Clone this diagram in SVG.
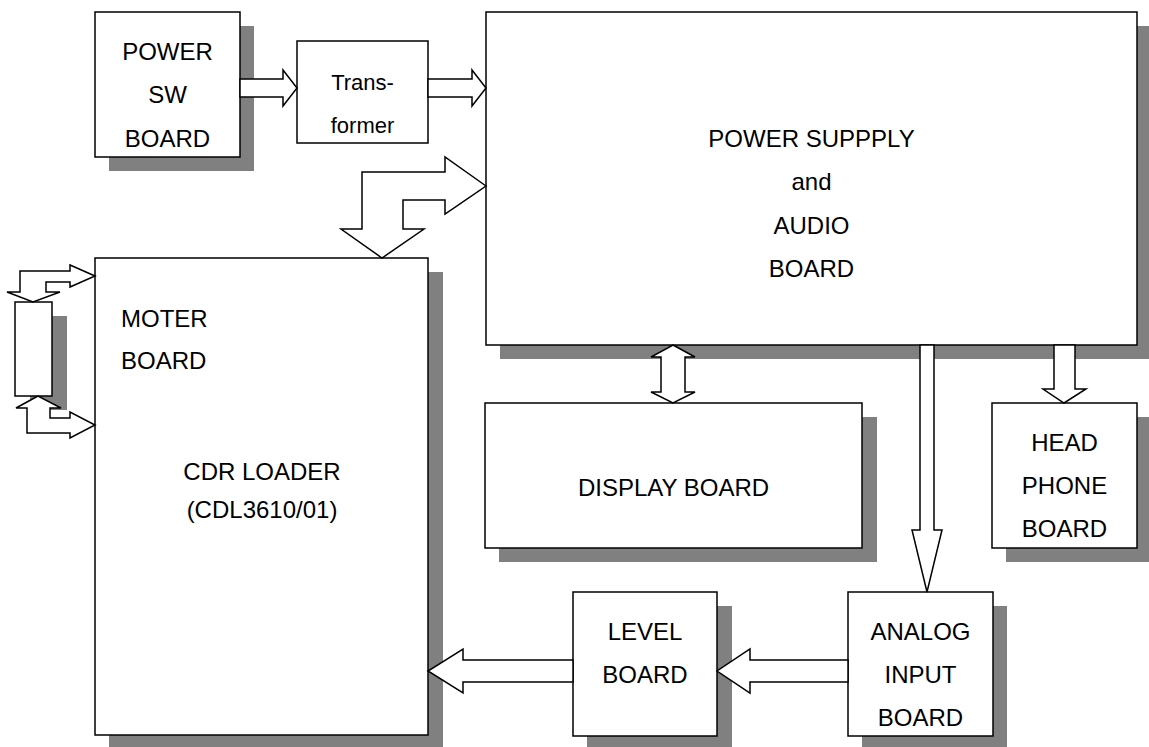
<svg xmlns="http://www.w3.org/2000/svg" width="1149" height="747" viewBox="0 0 1149 747">
<style>
.sh{fill:#808080;stroke:none}
.bx{fill:#fff;stroke:#000;stroke-width:1.5}
.ar{fill:#fff;stroke:#000;stroke-width:1.5;stroke-linejoin:miter}
text{font-family:"Liberation Sans",Arial,sans-serif;font-size:24px;fill:#000}
.c{text-anchor:middle}
.t{font-size:22px}
</style>
<rect width="1149" height="747" fill="#fff"/>
<g id="power-sw-board">
<rect class="sh" x="109" y="26" width="145" height="145"/>
<rect class="bx" x="95" y="12" width="145" height="145"/>
<text class="c" x="167.5" y="60">POWER</text>
<text class="c" x="167.5" y="103">SW</text>
<text class="c" x="167.5" y="147">BOARD</text>
</g>
<g id="transformer">
<rect class="bx" x="297" y="41" width="131" height="102"/>
<text class="c t" x="362.5" y="90">Trans-</text>
<text class="c t" x="362.5" y="133">former</text>
</g>
<g id="power-supply-audio-board">
<rect class="sh" x="500" y="26" width="651" height="333"/>
<rect class="bx" x="486" y="12" width="651" height="333"/>
<text class="c" x="811.5" y="147">POWER SUPPPLY</text>
<text class="c" x="811.5" y="190">and</text>
<text class="c" x="811.5" y="234">AUDIO</text>
<text class="c" x="811.5" y="277">BOARD</text>
</g>
<g id="cdr-loader">
<rect class="sh" x="109" y="272" width="334" height="477"/>
<rect class="bx" x="95" y="258" width="333" height="477"/>
<text x="121" y="327">MOTER</text>
<text x="121" y="369">BOARD</text>
<text class="c" x="262" y="480">CDR LOADER</text>
<text class="c" x="262" y="518">(CDL3610/01)</text>
</g>
<g id="motor-unit">
<rect class="sh" x="30" y="316" width="37" height="94"/>
<rect class="bx" x="15" y="302" width="37" height="94"/>
</g>
<g id="display-board">
<rect class="sh" x="499" y="417" width="378" height="145"/>
<rect class="bx" x="485" y="403" width="377" height="145"/>
<text class="c" x="673.5" y="496">DISPLAY BOARD</text>
</g>
<g id="headphone-board">
<rect class="sh" x="1006" y="417" width="145" height="145"/>
<rect class="bx" x="992" y="403" width="145" height="145"/>
<text class="c" x="1064.5" y="451">HEAD</text>
<text class="c" x="1064.5" y="494">PHONE</text>
<text class="c" x="1064.5" y="537">BOARD</text>
</g>
<g id="analog-input-board">
<rect class="sh" x="862" y="606" width="145" height="144"/>
<rect class="bx" x="848" y="592" width="145" height="144"/>
<text class="c" x="920.5" y="640">ANALOG</text>
<text class="c" x="920.5" y="683">INPUT</text>
<text class="c" x="920.5" y="726">BOARD</text>
</g>
<g id="level-board">
<rect class="sh" x="587" y="606" width="145" height="144"/>
<rect class="bx" x="573" y="592" width="144" height="144"/>
<text class="c" x="645" y="640">LEVEL</text>
<text class="c" x="645" y="683">BOARD</text>
</g>
<g id="connectors">
<path class="ar" d="M240,79 H283 V70 L297,88 L283,106 V97 H240 Z"/>
<path class="ar" d="M428,79 H472 V70 L486,88 L472,106 V97 H428 Z"/>
<path class="ar" d="M486,186 L445,157 V172 H362 V229 H341 L382,258 L424,229 H403 V200 H445 V214 Z"/>
<path class="ar" d="M95,276 L70,265 V271 H20 V292 H7 L33,302 L60,292 H46 V282 H70 V287 Z"/>
<path class="ar" d="M38,396 L16,408 H27 V433 H70 V438 L95,425 L70,412 V418 H50 V408 H61 Z"/>
<path class="ar" d="M673,345 L695,357 H685 V392 H695 L673,403 L651,392 H661 V357 H651 Z"/>
<path class="ar" d="M920,345 V530 H912 L927,592 L942,530 H934 V345 Z"/>
<path class="ar" d="M1054,345 V389 H1043 L1064,403 L1086,389 H1075 V345 Z"/>
<path class="ar" d="M848,660 H750 V649 L717,671 L750,693 V682 H848 Z"/>
<path class="ar" d="M573,660 H463 V649 L428,671 L463,693 V682 H573 Z"/>
</g>
</svg>
